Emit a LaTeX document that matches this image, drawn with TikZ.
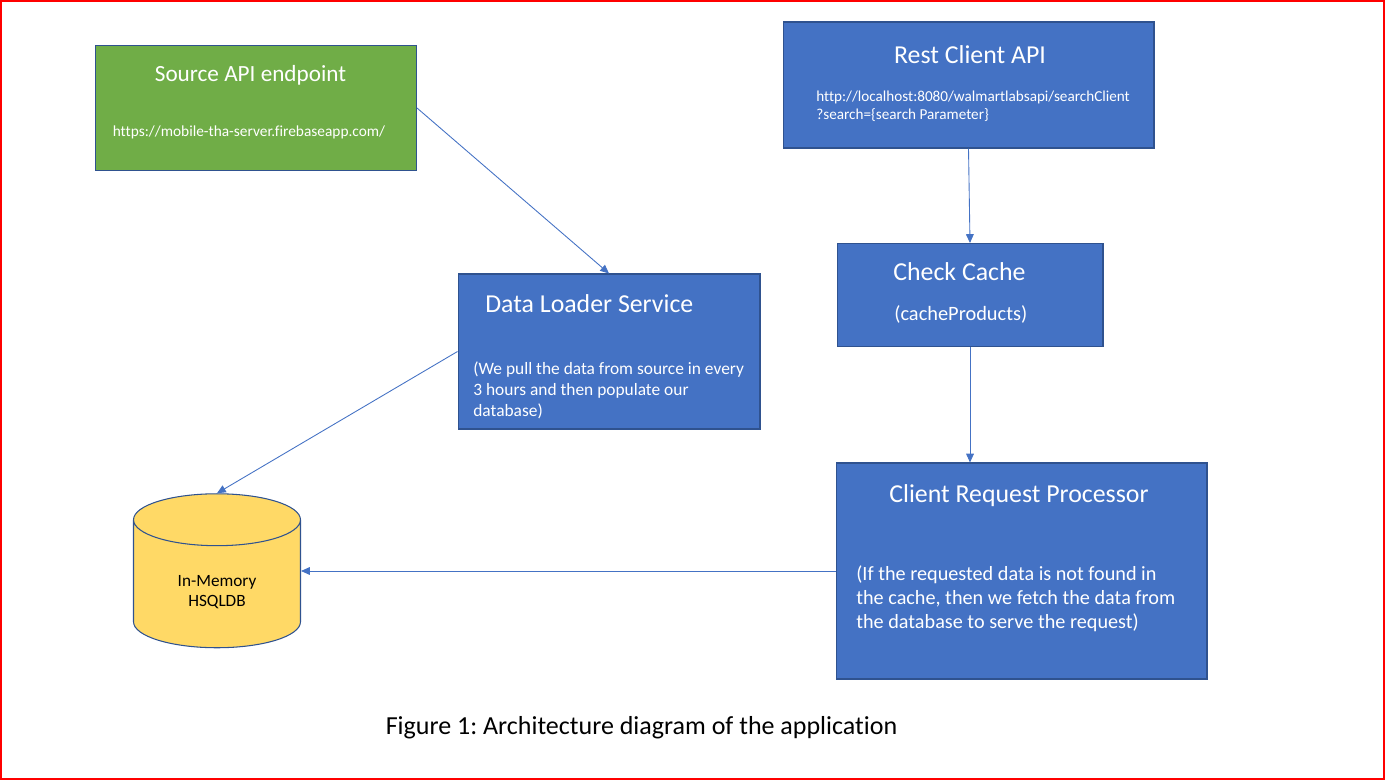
\documentclass[tikz,border=0pt]{standalone}
\usepackage{fontspec}
\usetikzlibrary{arrows.meta,shapes.geometric}
\setmainfont[Ligatures=CommonOff]{Carlito}
\frenchspacing
\definecolor{apiblue}{RGB}{68, 114, 196}
\definecolor{apigreen}{RGB}{112, 173, 71}
\definecolor{apiyellow}{RGB}{255, 217, 102}
\definecolor{apiedge}{RGB}{47, 82, 143}
\begin{document}
\begin{tikzpicture}[
      x=0.02cm, y=-0.02cm,
      box/.style={draw=apiedge, fill=apiblue, line width=0.6pt, inner sep=0pt},
      title/.style={text=white, inner sep=0pt, font=\fontsize{14.7}{17}\selectfont},
      body/.style={text=white, inner sep=0pt, align=left, font=\fontsize{8.7}{10.4}\selectfont},
      arrow/.style={-{Triangle[length=5pt, width=4.4pt]}, apiblue, line width=0.5pt}
    ]
      \useasboundingbox (0,0) rectangle (1385,780);
      \draw[red, line width=1.1pt] (0.8,0.8) rectangle (1384.2,779.2);

      % Source
      \node[box, fill=apigreen, minimum width=6.42cm, minimum height=2.5cm] (source) at (256,108) {};
      \node[title, font=\fontsize{13.2}{16}\selectfont] (sourcetitle) at (250.5,75) {Source API endpoint};
      \node[body, font=\fontsize{8.75}{10.4}\selectfont] (sourceurl) at (249,132) {https://mobile-tha-server.firebaseapp.com/};

      % Client
      \node[box, minimum width=7.42cm, minimum height=2.52cm] (rest) at (968.5,85) {};
      \node[title] (resttitle) at (970,55) {Rest Client API};
      \node[body, anchor=west, font=\fontsize{8.64}{10.2}\selectfont] (resturl) at (816,106.5) {http://localhost:8080/walmartlabsapi/searchClient\\?search=\{search Parameter\}};

      \node[box, minimum width=5.32cm, minimum height=2.06cm] (check) at (970,295) {};
      \node[title, anchor=west] (checktitle) at (893,272) {Check Cache};
      \node[body, anchor=west, font=\fontsize{11.6}{14}\selectfont] (checkname) at (894,314) {(cacheProducts)};

      \node[box, minimum width=7.42cm, minimum height=4.32cm] (processor) at (1021.5,571) {};
      \node[title, anchor=west] (processortitle) at (889,496) {Client Request Processor};
      \node[body, anchor=west, font=\fontsize{11.5}{13.7}\selectfont] (processortext) at (856,599) {(If the requested data is not found in\\the cache, then we fetch the data from\\the database to serve the request)};

      % Loader
      \node[box, minimum width=6.04cm, minimum height=3.1cm] (loader) at (609,351.5) {};
      \node[title, anchor=west] (loadertitle) at (485,304) {Data Loader Service};
      \node[body, anchor=west, font=\fontsize{9.9}{12}\selectfont] (loadertext) at (473,390) {(We pull the data from source in every\\3 hours and then populate our\\database)};

      % Base
      \node[cylinder, shape border rotate=90, aspect=0.66, draw=apiedge, line width=0.6pt,
            cylinder uses custom fill, cylinder body fill=apiyellow, cylinder end fill=apiyellow,
            minimum width=3.34cm, minimum height=3.08cm, inner sep=0pt, align=center,
            font=\fontsize{9.8}{11.4}\selectfont] (base) at (217,584) {\rule{0pt}{16pt}In-Memory\\HSQLDB};

      \node[inner sep=0pt, font=\fontsize{14.8}{17}\selectfont] (caption) at (641.5,728) {Figure 1: Architecture diagram of the application};

      % Arrows
      \draw[arrow] (source.east) -- (loader.north);
      \draw[arrow] (rest.south) -- (check.north);
      \draw[arrow] (check.south) -- (check.south |- processor.north);
      \draw[arrow] (loader.west) -- (base.top);
      \draw[arrow] (processor.west) -- (processor.west -| base.east);
    \end{tikzpicture}
\end{document}
